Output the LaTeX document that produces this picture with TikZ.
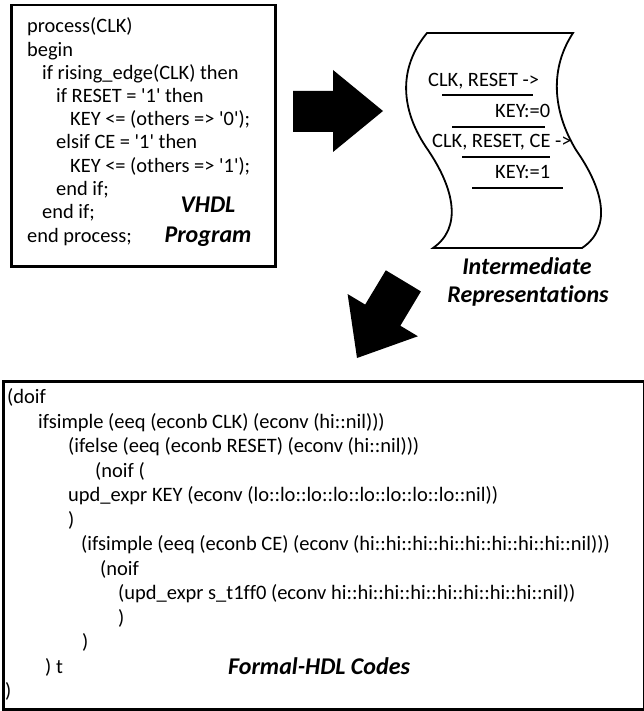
\documentclass[tikz,border=0pt]{standalone}
\usepackage{fontspec}
\setmainfont{Carlito}[Ligatures={TeX,NoCommon}]
\newcommand{\q}{\textquotesingle}
\begin{document}
\begin{tikzpicture}[x=1pt,y=-1pt,
  code/.style={anchor=base west, inner sep=0pt, font=\fontsize{20.4}{24}\selectfont},
  fcode/.style={code, font=\fontsize{20.5}{24}\selectfont},
  lbl/.style={anchor=base, inner sep=0pt, font=\fontsize{24}{28}\selectfont\bfseries\itshape},
  frame/.style={draw, line width=2.5pt, inner sep=0pt, anchor=north west},
  rule/.style={line width=1.8pt},
  blockarrow/.style={fill=black}]
\useasboundingbox (0,0) rectangle (644,711);

% ---- VHDL source box ----
\node[frame, minimum width=264pt, minimum height=261pt] (vhdl) at (10,4) {};
\node[code] (v1)  at (27,33)    {process(CLK)};
\node[code] (v2)  at (27,56.2)  {begin};
\node[code] (v3)  at (42,79.4)  {if rising\_edge(CLK) then};
\node[code] (v4)  at (56,102.6) {if RESET = \q1\q{} then};
\node[code] (v5)  at (70,125.8) {KEY <= (others => \q0\q);};
\node[code] (v6)  at (56,149)   {elsif CE = \q1\q{} then};
\node[code] (v7)  at (70,172.2) {KEY <= (others => \q1\q);};
\node[code] (v8)  at (56,195.4) {end if;};
\node[code] (v9)  at (42,218.6) {end if;};
\node[code] (v10) at (27,242)   {end process;};
\node[lbl] (vl1) at (208,213) {VHDL};
\node[lbl] (vl2) at (208,242) {Program};

% ---- arrow: VHDL -> intermediate ----
\path[blockarrow] (293,91) -- (333,91) -- (333,70) -- (383,111)
  -- (333,152) -- (333,132) -- (293,132) -- cycle;

% ---- intermediate representation (scroll) ----
\draw[line width=1.8pt, fill=white]
  (427,33) -- (573,33)
  .. controls (550,68) and (552,110) .. (576,150)
  .. controls (604,190) and (612,228) .. (582,248)
  -- (433,248)
  .. controls (462,228) and (455,190) .. (428,150)
  .. controls (400,110) and (398,68) .. (427,33) -- cycle;
\node[code] (i1) at (428,87)  {CLK, RESET ->};
\draw[rule] (442,95) -- (533,95);
\node[code] (i2) at (495,118) {KEY:=0};
\draw[rule] (452,127) -- (545,127);
\node[code] (i3) at (432,148) {CLK, RESET, CE ->};
\draw[rule] (462,157) -- (550,157);
\node[code] (i4) at (495,179) {KEY:=1};
\draw[rule] (472,188) -- (563,188);
\node[lbl] (il1) at (527,274) {Intermediate};
\node[lbl] (il2) at (528,302) {Representations};

% ---- arrow: intermediate -> formal ----
\begin{scope}[shift={(357,358)}, rotate=-121]
  \path[blockarrow] (0,0) -- (-50,-41) -- (-50,-20.5) -- (-90,-20.5)
    -- (-90,20.5) -- (-50,20.5) -- (-50,41) -- cycle;
\end{scope}

% ---- Formal-HDL box ----
\node[frame, minimum width=641pt, minimum height=328pt] (fhdl) at (2,380) {};
\node[fcode] (f1)  at (7,403.5)  {(doif};
\node[fcode] (f2)  at (38,428)   {ifsimple (eeq (econb CLK) (econv (hi::nil)))};
\node[fcode] (f3)  at (68,452.5) {(ifelse (eeq (econb RESET) (econv (hi::nil)))};
\node[fcode] (f4)  at (95,477)   {(noif (};
\node[fcode] (f5)  at (68,501.5) {upd\_expr KEY (econv (lo::lo::lo::lo::lo::lo::lo::lo::nil))};
\node[fcode] (f6)  at (68,526)   {)};
\node[fcode] (f7)  at (81,550.5) {(ifsimple (eeq (econb CE) (econv (hi::hi::hi::hi::hi::hi::hi::hi::nil)))};
\node[fcode] (f8)  at (100,575)  {(noif};
\node[fcode] (f9)  at (118,599.5) {(upd\_expr s\_t1ff0 (econv hi::hi::hi::hi::hi::hi::hi::hi::nil))};
\node[fcode] (f10) at (118,624)  {)};
\node[fcode] (f11) at (82,648.5) {)};
\node[fcode] (f12) at (45,673)   {) t};
\node[fcode] (f13) at (5,697.5)  {)};
\node[lbl, anchor=base west] (fl) at (228,674) {Formal-HDL Codes};
\end{tikzpicture}
\end{document}
